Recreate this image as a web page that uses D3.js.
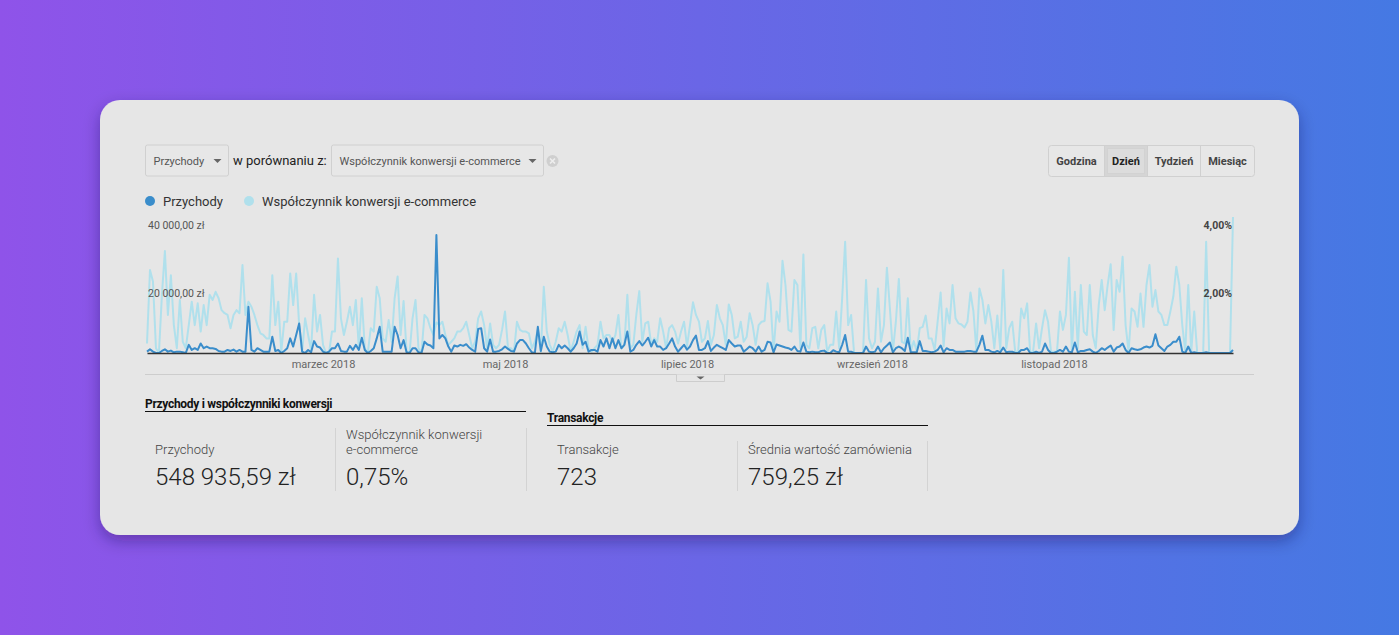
<!DOCTYPE html>
<html>
<head>
<meta charset="utf-8">
<script src="https://cdn.jsdelivr.net/npm/d3@7"></script>
<style>
  body { margin: 0; overflow: hidden; }
  svg { display: block; font-family: Roboto, "Noto Sans", sans-serif; }
</style>
</head>
<body>
<div id="chart"></div>
<script>
// daily data, 1 Jan 2018 .. 31 Dec 2018
const startDate = "2018-01-01";

const revenue = [
  400, 1100, 400, 0, 0, 600, 1100, 400, 700, 200,
  400, 400, 200, 0, 2400, 900, 1400, 900, 2800, 1400,
  1900, 1400, 1400, 1200, 600, 400, 400, 900, 600, 1000,
  400, 900, 400, 400, 13600, 900, 400, 1400, 900, 400,
  400, 400, 4800, 600, 900, 0, 600, 1400, 4300, 1900,
  5300, 8700, 400, 0, 900, 200, 3500, 1900, 1600, 400,
  0, 400, 1400, 1400, 2800, 600, 400, 400, 2100, 900,
  2400, 900, 4500, 900, 0, 600, 1400, 4300, 7700, 400,
  400, 400, 400, 7700, 5300, 1400, 3800, 200, 0, 1400,
  1400, 200, 0, 3300, 2500, 2200, 1400, 34700, 4300, 5300,
  4300, 1900, 400, 2200, 1900, 2400, 2100, 2600, 1600, 900,
  400, 7100, 7300, 1400, 400, 4000, 400, 400, 600, 1100,
  1900, 1200, 600, 400, 2800, 3800, 3800, 2800, 1400, 200,
  0, 7700, 600, 4800, 1900, 400, 200, 400, 2400, 1400,
  2200, 1400, 400, 1400, 2800, 6300, 2400, 3300, 400, 900,
  900, 400, 3800, 1900, 4300, 1400, 4300, 1400, 3800, 1400,
  2400, 6300, 400, 900, 2400, 3500, 2200, 3300, 4500, 1900,
  3800, 1900, 1900, 900, 1400, 2800, 4300, 1900, 400, 1400,
  2400, 1000, 1900, 3800, 5100, 900, 900, 1400, 3500, 600,
  1600, 2400, 1900, 1400, 900, 3800, 2800, 1900, 2200, 2200,
  400, 1100, 1900, 1400, 400, 1900, 400, 900, 3300, 3100,
  200, 2500, 2200, 1900, 1600, 1400, 900, 1900, 600, 400,
  3100, 400, 200, 400, 200, 200, 600, 700, 0, 0,
  800, 400, 200, 2400, 5300, 400, 400, 0, 0, 0,
  0, 1900, 400, 200, 400, 1900, 200, 1400, 2200, 3100,
  200, 1400, 1900, 1400, 600, 4500, 200, 200, 200, 3500,
  600, 600, 400, 200, 400, 900, 2200, 200, 1400, 900,
  900, 400, 400, 400, 400, 600, 600, 400, 400, 2400,
  5100, 900, 900, 400, 200, 600, 200, 1600, 200, 400,
  400, 0, 0, 900, 900, 1400, 0, 0, 400, 0,
  400, 2800, 900, 0, 0, 400, 900, 400, 1900, 400,
  200, 3100, 200, 600, 600, 900, 1100, 400, 0, 600,
  1400, 900, 1600, 2200, 400, 1600, 1900, 2800, 900, 0,
  1400, 1100, 900, 1100, 1600, 1900, 1600, 2100, 5500, 2200,
  1400, 600, 1900, 2400, 3300, 3300, 4800, 400, 0, 1900,
  0, 200, 0, 0, 0, 200, 0, 0, 0, 0,
  0, 0, 0, 0, 900
];

const conversion = [
  0.28, 2.44, 2.10, 0.14, 0, 1.71, 3.00, 1.12, 2.29, 0.82,
  0.14, 1.56, 0.33, 0.14, 0.82, 1.51, 0.82, 1.46, 0.63, 1.41,
  0.82, 1.71, 1.56, 1.80, 1.61, 1.26, 1.17, 1.12, 0.73, 1.12,
  1.26, 1.17, 2.59, 1.12, 1.51, 1.36, 1.12, 0.82, 0.58, 0.53,
  0.43, 0.43, 2.29, 0.82, 1.51, 0.04, 0.92, 0.92, 2.34, 1.41,
  2.34, 0.82, 0.04, 1.02, 0.53, 0.09, 1.71, 0.63, 1.12, 0.24,
  0, 0, 0.63, 0.63, 2.78, 1.02, 0.53, 0.92, 1.36, 0.82,
  1.56, 0.14, 1.61, 0.14, 0, 0.73, 0.63, 1.95, 1.61, 0.43,
  0.33, 0.97, 0.33, 1.61, 2.25, 0.53, 1.53, 0.04, 0, 1.02,
  1.56, 0.14, 0, 1.12, 1.02, 0.73, 0.53, 0.90, 0.82, 0.92,
  0.53, 0.24, 0.33, 0.43, 0.63, 0.63, 0.73, 0.92, 0.53, 0.14,
  0.33, 1.02, 1.22, 0.82, 0.14, 0.87, 0.24, 0.14, 0.24, 0.68,
  1.22, 0.14, 0.14, 0.04, 0.92, 0.68, 0.63, 0.63, 0.58, 0.14,
  0.33, 0.68, 0.04, 1.95, 0.63, 0.24, 0.04, 0.33, 0.73, 0.63,
  0.92, 0.53, 0.04, 0.33, 0.63, 0.82, 0.14, 0.77, 0.14, 0.04,
  0.14, 0.24, 0.92, 0.43, 0.53, 0.53, 0.33, 0.53, 1.12, 0.14,
  0.24, 1.71, 0.14, 0.24, 1.12, 1.82, 0.33, 0.87, 0.92, 0.24,
  0.43, 0.33, 1.02, 0.63, 0.14, 0.73, 0.82, 0.63, 0.28, 0.63,
  0.92, 0.20, 0.82, 1.49, 1.12, 0.92, 0.33, 0.43, 0.94, 0.24,
  0.53, 1.41, 1.02, 0.82, 0.24, 1.43, 1.12, 0.43, 0.48, 0.92,
  0.33, 0.48, 1.17, 0.82, 0.24, 0.82, 0.92, 0.94, 2.05, 1.51,
  0.04, 1.22, 0.92, 2.71, 2.00, 0.68, 0.63, 2.15, 2.00, 0.14,
  2.90, 0.24, 0.14, 0.73, 0.77, 0.14, 0.68, 0.82, 0.04, 0.24,
  0.24, 1.22, 0.14, 1.61, 3.27, 0.82, 1.12, 0, 0, 0,
  0, 2.15, 0.43, 0.14, 0.33, 1.90, 0.33, 0.82, 2.51, 1.31,
  0.04, 0.92, 2.18, 0.33, 0.28, 1.61, 0.04, 0.35, 0.04, 0.73,
  0.77, 1.10, 0.43, 0.43, 0.09, 0.92, 1.78, 0.19, 1.31, 0.87,
  2.00, 1.02, 0.87, 0.84, 0.75, 0.92, 1.78, 1.22, 0.04, 1.90,
  1.56, 0.87, 1.41, 0.92, 0.14, 1.10, 0.09, 2.44, 0.14, 0.73,
  0.92, 0.04, 0.04, 1.31, 1.02, 1.46, 0.04, 0.04, 0.87, 0.14,
  0.73, 1.26, 0.92, 0.04, 0.04, 0.04, 1.22, 0.68, 1.12, 2.80,
  0.04, 1.80, 0.14, 2.00, 0.63, 0.53, 2.00, 0.53, 0.14, 1.41,
  2.15, 1.26, 2.00, 2.61, 0.68, 2.15, 1.80, 2.83, 0.82, 0.04,
  1.31, 1.22, 0.77, 1.75, 0.77, 2.00, 2.59, 1.36, 1.85, 1.22,
  1.12, 0.82, 0.82, 1.22, 1.66, 2.54, 2.00, 0.82, 0.04, 2.00,
  0.04, 1.22, 0, 0, 0, 3.27, 0, 0, 0, 0,
  0, 0, 0, 0, 4.00
];

const monthTicks = ["2018-03-01", "2018-05-01", "2018-07-01", "2018-09-01", "2018-11-01"];
const monthNames = ["styczeń", "luty", "marzec", "kwiecień", "maj", "czerwiec",
  "lipiec", "sierpień", "wrzesień", "październik", "listopad", "grudzień"];
const revenueTicks = [20000, 40000];
const conversionTicks = [2, 4];
const seriesNames = ["Przychody", "Współczynnik konwersji e-commerce"];
const periodButtons = ["Godzina", "Dzień", "Tydzień", "Miesiąc"];
const groupTitles = ["Przychody i współczynniki konwersji", "Transakcje"];
const statLabels = [["Przychody"], ["Współczynnik konwersji", "e-commerce"], ["Transakcje"], ["Średnia wartość zamówienia"]];
const statValues = ["548 935,59 zł", "0,75%", "723", "759,25 zł"];

const width = 1399;
const height = 635;
const darkBlue = "#3a8dcb";
const lightBlue = "#b0e0ec";

const pl = d3.formatLocale({ decimal: ",", thousands: " ", grouping: [3], currency: ["", " zł"] });
const fmtMoney = pl.format("$,.2f");
const fmtPct = pl.format(",.2f");

const svg = d3.select("#chart")
  .append("svg")
  .attr("width", width)
  .attr("height", height);

const defs = svg.append("defs");
const grad = defs.append("linearGradient").attr("id", "bg").attr("x1", 0).attr("x2", 1).attr("y1", 0).attr("y2", 0);
grad.append("stop").attr("offset", "0%").attr("stop-color", "#8f53e9");
grad.append("stop").attr("offset", "100%").attr("stop-color", "#4579e3");

const shadow = defs.append("filter").attr("id", "shadow").attr("x", "-10%").attr("y", "-10%").attr("width", "120%").attr("height", "130%");
shadow.append("feDropShadow").attr("dx", 0).attr("dy", 6).attr("stdDeviation", 8)
  .attr("flood-color", "#1a1040").attr("flood-opacity", 0.35);

// background + card
svg.append("rect").attr("width", width).attr("height", height).attr("fill", "url(#bg)");
svg.append("rect")
  .attr("x", 100).attr("y", 100).attr("width", 1199).attr("height", 435)
  .attr("rx", 20).attr("fill", "#e6e6e6")
  .attr("filter", "url(#shadow)");

// top controls
function dropdown(x, w, label) {
  const g = svg.append("g").attr("transform", `translate(${x},145)`);
  g.append("rect").attr("width", w).attr("height", 31).attr("rx", 2)
    .attr("fill", "#e7e7e7").attr("stroke", "#d0d0d0");
  g.append("text").attr("x", 8).attr("y", 19.5).attr("font-size", 11).attr("fill", "#555").text(label);
  g.append("path").attr("d", `M${w - 15},14 h8 l-4,4 z`).attr("fill", "#666");
}
dropdown(145.5, 83, seriesNames[0]);
svg.append("text").attr("x", 233).attr("y", 165).attr("font-size", 13).attr("fill", "#222").text("w porównaniu z:");
dropdown(331.5, 212, seriesNames[1]);

const closeIcon = svg.append("g").attr("transform", "translate(552.5,161)");
closeIcon.append("circle").attr("r", 6).attr("fill", "#cfcfcf");
closeIcon.append("path").attr("d", "M-2.5,-2.5 L2.5,2.5 M2.5,-2.5 L-2.5,2.5").attr("stroke", "#eee").attr("stroke-width", 1.6);

// Godzina / Dzień / Tydzień / Miesiąc
const btnEdges = [1048.5, 1104.5, 1147.5, 1200.5, 1254.5];
const btns = svg.append("g");
btns.append("rect").attr("x", btnEdges[0]).attr("y", 145.5).attr("width", btnEdges[4] - btnEdges[0]).attr("height", 31)
  .attr("rx", 3).attr("fill", "#e7e7e7").attr("stroke", "#d0d0d0");
btns.append("rect").attr("x", btnEdges[1] + 0.5).attr("y", 146).attr("width", btnEdges[2] - btnEdges[1] - 1).attr("height", 30)
  .attr("fill", "#d5d5d5");
btns.append("rect").attr("x", btnEdges[1] + 3).attr("y", 148.5).attr("width", btnEdges[2] - btnEdges[1] - 6).attr("height", 25)
  .attr("fill", "#dcdcdc").attr("stroke", "#d2d2d2");
periodButtons.forEach((b, i) => {
  if (i > 0) {
    btns.append("line").attr("x1", btnEdges[i]).attr("x2", btnEdges[i]).attr("y1", 146).attr("y2", 176)
      .attr("stroke", "#d0d0d0");
  }
  btns.append("text")
    .attr("x", (btnEdges[i] + btnEdges[i + 1]) / 2).attr("y", 165)
    .attr("text-anchor", "middle").attr("font-size", 11).attr("font-weight", "bold")
    .attr("fill", i === 1 ? "#222" : "#444")
    .text(b);
});

// legend
const legend = svg.append("g").attr("font-size", 13).attr("fill", "#333");
[[150, 163, darkBlue], [249, 262, lightBlue]].forEach((p, i) => {
  legend.append("circle").attr("cx", p[0]).attr("cy", 201).attr("r", 5).attr("fill", p[2]);
  legend.append("text").attr("x", p[1]).attr("y", 206).attr("fill", "#333").text(seriesNames[i]);
});

// chart
const parseDate = d3.timeParse("%Y-%m-%d");
const day0 = parseDate(startDate);
const dates = revenue.map((_, i) => d3.timeDay.offset(day0, i));

const x = d3.scaleTime().domain([dates[0], dates[dates.length - 1]]).range([147, 1233]);
const yRev = d3.scaleLinear().domain([0, 40000]).range([353, 217]);
const yConv = d3.scaleLinear().domain([0, 4]).range([353, 217]);

const convLine = d3.line().x((d, i) => x(dates[i])).y(d => yConv(d));
const revLine = d3.line().x((d, i) => x(dates[i])).y(d => yRev(d));

svg.append("path").datum(conversion)
  .attr("d", convLine).attr("fill", "none")
  .attr("stroke", lightBlue).attr("stroke-width", 2).attr("stroke-linejoin", "round");

svg.append("path").datum(revenue)
  .attr("d", revLine).attr("fill", "none")
  .attr("stroke", darkBlue).attr("stroke-width", 2).attr("stroke-linejoin", "round");

// x axis (baseline + month labels)
const xAxis = svg.append("g")
  .attr("transform", "translate(0,353)")
  .call(d3.axisBottom(x)
    .tickValues(monthTicks.map(parseDate))
    .tickSize(0).tickSizeOuter(0).tickPadding(7)
    .tickFormat(d => monthNames[d.getMonth()] + " " + d.getFullYear()));
xAxis.select(".domain").attr("stroke", "#333").attr("stroke-width", 1.5);
xAxis.selectAll("text").attr("font-size", 11).attr("fill", "#666").attr("font-family", "Roboto, sans-serif");

// left labels, drawn inside the plot
const yLeft = svg.append("g")
  .attr("transform", "translate(147,0)")
  .call(d3.axisRight(yRev).tickValues(revenueTicks).tickSize(0).tickPadding(1).tickFormat(fmtMoney));
yLeft.select(".domain").remove();
yLeft.selectAll("text").attr("dy", "1.05em").attr("font-size", 10.5).attr("fill", "#555").attr("font-family", "Roboto, sans-serif");

const yRight = svg.append("g")
  .attr("transform", "translate(1233,0)")
  .call(d3.axisLeft(yConv).tickValues(conversionTicks).tickSize(0).tickPadding(1).tickFormat(d => fmtPct(d) + "%"));
yRight.select(".domain").remove();
yRight.selectAll("text").attr("dy", "1.05em").attr("font-size", 10.5).attr("font-weight", "bold")
  .attr("fill", "#444").attr("font-family", "Roboto, sans-serif");

// separator with the little collapse tab
svg.append("line").attr("x1", 145).attr("x2", 1254).attr("y1", 374.5).attr("y2", 374.5).attr("stroke", "#cdcdcd");
svg.append("path").attr("d", "M676.5,374.5 v7 h48 v-7").attr("fill", "#e6e6e6").attr("stroke", "#cdcdcd");
svg.append("path").attr("d", "M696.5,376.5 h8 l-4,3 z").attr("fill", "#666");

// summary block
const groups = [[145, 408, 526], [547, 422, 928]];
groups.forEach((g, i) => {
  svg.append("text").attr("x", g[0]).attr("y", g[1]).attr("font-size", 12).attr("font-weight", "bold")
    .attr("fill", "#111").attr("letter-spacing", -0.3).text(groupTitles[i]);
  svg.append("line").attr("x1", g[0]).attr("x2", g[2]).attr("y1", g[1] + 3.5).attr("y2", g[1] + 3.5)
    .attr("stroke", "#111");
});

const statX = [155, 346, 557, 748];
[[335.5, 428], [526.5, 428], [737.5, 441], [927.5, 441]].forEach(s => {
  svg.append("line").attr("x1", s[0]).attr("x2", s[0]).attr("y1", s[1]).attr("y2", 491).attr("stroke", "#d3d3d3");
});
statLabels.forEach((lines, i) => {
  const t = svg.append("text").attr("font-size", 13).attr("fill", "#444").attr("font-weight", 300);
  lines.forEach((l, j) => {
    t.append("tspan").attr("x", statX[i]).attr("y", 454 - (lines.length - 1 - j) * 15).text(l);
  });
  svg.append("text").attr("x", statX[i]).attr("y", 485).attr("font-size", 24).attr("font-weight", 300)
    .attr("fill", "#222").text(statValues[i]);
});
</script>
</body>
</html>
